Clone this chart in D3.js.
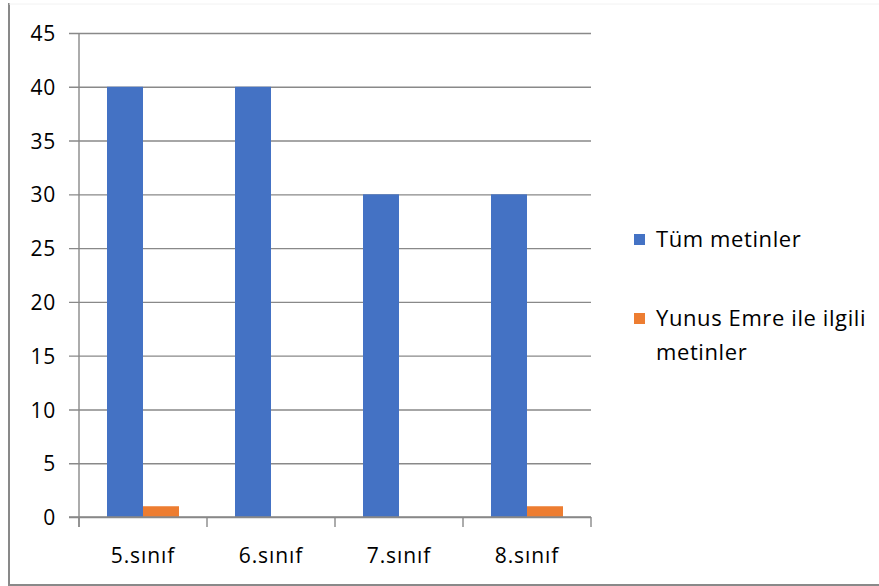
<!DOCTYPE html>
<html>
<head>
<meta charset="utf-8">
<script src="https://cdn.jsdelivr.net/npm/d3@7"></script>
<style>
  html, body { margin: 0; padding: 0; background: #fff; }
  svg { display: block; }
  text { font-family: "Open Sans", "Noto Sans", sans-serif; fill: #000; }
</style>
</head>
<body>
<svg id="chart" width="879" height="586"></svg>
<script>
// Number of reading texts per grade
const categories = ["5.sınıf", "6.sınıf", "7.sınıf", "8.sınıf"];
const seriesNames = ["Tüm metinler", "Yunus Emre ile ilgili metinler"];
const allTexts = [40, 40, 30, 30];
const yunusEmreTexts = [1, 0, 0, 1];
const yTicks = [0, 5, 10, 15, 20, 25, 30, 35, 40, 45];
const colors = ["#4472C4", "#ED7D31"];

const table = categories.map((c, i) => ({ cat: c, values: [allTexts[i], yunusEmreTexts[i]] }));

const svg = d3.select("#chart");
const W = 879, H = 586;
const plot = { left: 79, right: 591, top: 33, bottom: 517 };
const gridColor = "#898989";
const fontFamily = "'Open Sans', 'Noto Sans', sans-serif";

// outer chart frame
svg.append("line").attr("x1", 9).attr("x2", 9).attr("y1", 3).attr("y2", 585)
  .attr("stroke", gridColor).attr("stroke-width", 2);
svg.append("line").attr("x1", 8).attr("x2", W).attr("y1", 585).attr("y2", 585)
  .attr("stroke", gridColor).attr("stroke-width", 2);
svg.append("line").attr("x1", 9).attr("x2", W).attr("y1", 4).attr("y2", 4)
  .attr("stroke", "#f2f2f2").attr("stroke-width", 1);

const x = d3.scaleBand().domain(categories).range([plot.left, plot.right]).paddingInner(0).paddingOuter(0);
const bw = x.bandwidth();
const x1 = d3.scaleBand().domain(d3.range(seriesNames.length))
  .range([bw * 28 / 128, bw * 100 / 128]).padding(0);
const y = d3.scaleLinear().domain([0, 45]).range([plot.bottom, plot.top]);

// horizontal gridlines with tick stubs on the left
const yAxis = d3.axisLeft(y).tickValues(yTicks).tickSize(plot.right - plot.left + 10)
  .tickFormat(d3.format("d"));
const gy = svg.append("g").attr("transform", `translate(${plot.right},0)`).call(yAxis);
gy.select(".domain").remove();
gy.selectAll(".tick line").attr("stroke", gridColor).attr("stroke-width", 1.4);
gy.selectAll(".tick text").attr("font-size", 21).attr("fill", "#000").attr("letter-spacing", 0.8)
  .attr("font-family", fontFamily).attr("dy", "0.36em").attr("x", -(plot.right - plot.left) - 23);

// vertical axis line
svg.append("line").attr("x1", plot.left).attr("x2", plot.left).attr("y1", plot.top).attr("y2", plot.bottom + 10)
  .attr("stroke", gridColor).attr("stroke-width", 1.4);

// category tick marks at band boundaries
const boundaries = categories.map(c => x(c)).concat([x(categories[categories.length - 1]) + bw]);
svg.append("g").selectAll("line").data(boundaries).join("line")
  .attr("x1", d => d).attr("x2", d => d).attr("y1", plot.bottom).attr("y2", plot.bottom + 10)
  .attr("stroke", gridColor).attr("stroke-width", 1.4);

// bars
const groups = svg.append("g").selectAll("g").data(table).join("g")
  .attr("transform", d => `translate(${x(d.cat)},0)`);
groups.selectAll("rect").data(d => d.values.map((v, i) => ({ v, i }))).join("rect")
  .attr("x", d => x1(d.i))
  .attr("width", x1.bandwidth())
  .attr("y", d => y(d.v))
  .attr("height", d => y(0) - y(d.v))
  .attr("fill", d => colors[d.i]);

// redraw zero line above bars
svg.append("line").attr("x1", plot.left - 10).attr("x2", plot.right).attr("y1", plot.bottom).attr("y2", plot.bottom)
  .attr("stroke", gridColor).attr("stroke-width", 1.4);

// category labels
svg.append("g").selectAll("text").data(categories).join("text")
  .attr("x", d => x(d) + bw / 2).attr("y", 563)
  .attr("text-anchor", "middle").attr("font-size", 21).attr("letter-spacing", 0.9)
  .text(d => d);

// legend
const legend = [
  { name: seriesNames[0], lines: ["Tüm metinler"], sy: 234, ty: 247 },
  { name: seriesNames[1], lines: ["Yunus Emre ile ilgili", "metinler"], sy: 313, ty: 326 }
];
const lg = svg.append("g").selectAll("g").data(legend).join("g");
lg.append("rect").attr("x", 634).attr("y", d => d.sy).attr("width", 11).attr("height", 11)
  .attr("fill", (d, i) => colors[i]);
lg.append("text").attr("x", 656).attr("y", d => d.ty).attr("font-size", 22).attr("letter-spacing", 0.6)
  .selectAll("tspan").data(d => d.lines).join("tspan")
  .attr("x", 656).attr("dy", (d, i) => i === 0 ? 0 : 34).text(d => d);
</script>
</body>
</html>
